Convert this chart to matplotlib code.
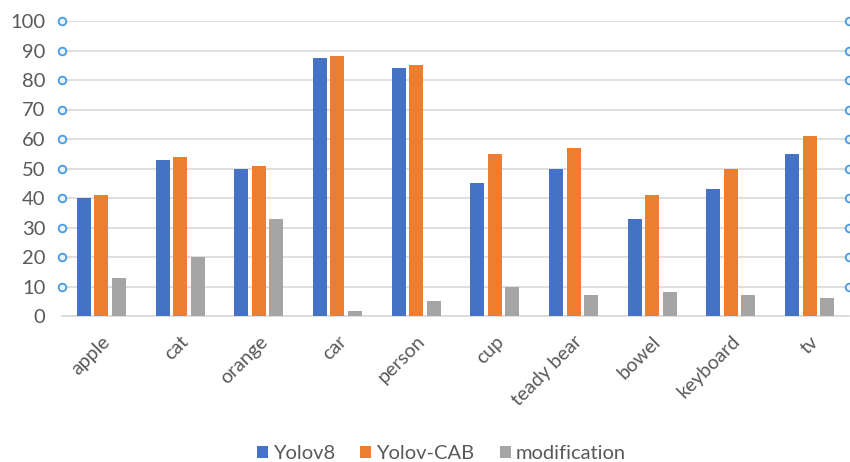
import matplotlib
matplotlib.use("Agg")
import matplotlib.pyplot as plt
import matplotlib.transforms as mtransforms
import numpy as np

plt.rcParams["font.family"] = ["Lato", "DejaVu Sans"]

categories = ["apple", "cat", "orange", "car", "person", "cup",
              "teady bear", "bowel", "keyboard", "tv"]
yolov8 = [40, 53, 50, 87.5, 84, 45, 50, 33, 43, 55]
yolov_cab = [41, 54, 51, 88, 85, 55, 57, 41, 50, 61]
modification = [13, 20, 33, 1.6, 5, 10, 7, 8, 7, 6]
yticks = list(range(0, 101, 10))

BLUE = "#4472C4"
ORANGE = "#ED7D31"
GRAY = "#A5A5A5"
TEXT = "#595959"
GRID = "#D9D9D9"
DOT = "#4A9BE0"

fig = plt.figure(figsize=(8.5, 4.62), dpi=100, facecolor="white")
ax = fig.add_axes([62 / 850, 1 - 316 / 462, 787 / 850, 295 / 462])

x = np.arange(len(categories))
w = 0.178
step = 0.222
series = [(yolov8, BLUE, "Yolov8"),
          (yolov_cab, ORANGE, "Yolov-CAB"),
          (modification, GRAY, "modification")]
for i, (vals, col, lab) in enumerate(series):
    ax.bar(x + (i - 1) * step, vals, width=w, color=col, label=lab, zorder=3)

ax.set_xlim(-0.5, len(categories) - 0.5)
ax.set_ylim(0, 100)
ax.set_yticks(yticks)
ax.grid(axis="y", color=GRID, lw=1.2, zorder=0)

# little ring markers at both ends of each gridline
ytr = ax.get_yaxis_transform()
for yv in yticks[1:]:
    ax.plot([0, 1], [yv, yv], transform=ytr, ls="none", marker="o", ms=5.5,
            mfc="#EAF3FC", mec=DOT, mew=1.3, clip_on=False, zorder=4)

for s in ["top", "right", "left"]:
    ax.spines[s].set_visible(False)
ax.spines["bottom"].set_color(GRID)
ax.spines["bottom"].set_linewidth(1.2)

ax.set_xticks(x)
ax.set_xticklabels(categories, rotation=45, ha="right", rotation_mode="anchor",
                   fontsize=14, color=TEXT)
shift = mtransforms.ScaledTranslation(-3 / 100, 0, fig.dpi_scale_trans)
for lbl in ax.get_xticklabels():
    lbl.set_transform(lbl.get_transform() + shift)
ax.tick_params(axis="x", length=0, pad=12)
ax.tick_params(axis="y", length=0, labelsize=14.5, labelcolor=TEXT, pad=12)

fig.legend(loc="center", bbox_to_anchor=(0.519, 0.018), ncol=3, frameon=False,
           fontsize=14.5, labelcolor=TEXT, handlelength=0.55, handleheight=0.55,
           handletextpad=0.25, columnspacing=1.25)

fig.savefig("out.png", dpi=100, facecolor="white")
